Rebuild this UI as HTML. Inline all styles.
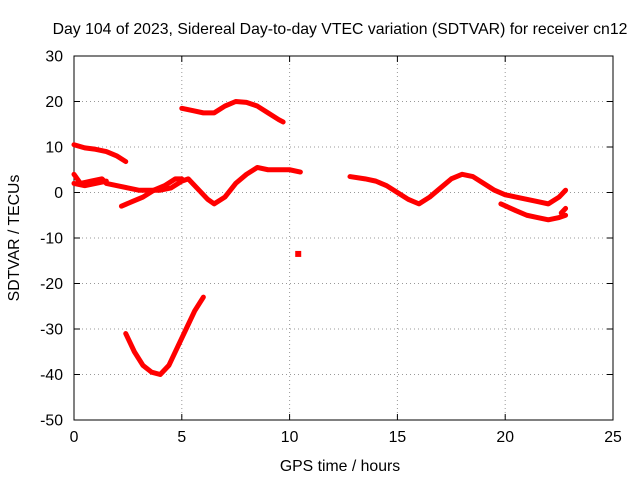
<!DOCTYPE html>
<html><head><meta charset="utf-8"><style>
body{margin:0;background:#fff}
svg text{font-family:"Liberation Sans",sans-serif;font-size:15.8px;fill:#000}
</style></head><body>
<svg id="chart" width="640" height="480">
<text x="340" y="34" text-anchor="middle">Day 104 of 2023, Sidereal Day-to-day VTEC variation (SDTVAR) for receiver cn12</text>
<g id="grid"></g><g id="axes"></g><g id="series"></g>
<text x="340" y="471" text-anchor="middle">GPS time / hours</text>
<text transform="translate(19,238) rotate(-90)" text-anchor="middle">SDTVAR / TECUs</text>
</svg>
<script>
const xTicks=[0,5,10,15,20,25];
const yTicks=[30,20,10,0,-10,-20,-30,-40,-50];
const s1=[[5.0,18.5],[5.5,18],[6.0,17.5],[6.5,17.5],[7.0,19],[7.5,20],[8.0,19.8],[8.5,19],[9.0,17.5],[9.5,16],[9.7,15.5]];
const s2=[[0,10.5],[0.5,9.8],[1,9.5],[1.5,9],[2,8],[2.4,6.8]];
const s3=[[2.4,-31],[2.8,-35],[3.2,-38],[3.6,-39.5],[4,-40],[4.4,-38],[4.8,-34],[5.2,-30],[5.6,-26],[6.0,-23]];
const s4=[[0,4],[0.3,2],[0.8,2.5],[1.3,3],[1.5,2],[2,1.5],[2.5,1],[3,0.5],[3.5,0.5],[4,0.5],[4.5,1],[5,2.5],[5.3,3],[5.7,1],[6.2,-1.5],[6.5,-2.5],[7,-1],[7.5,2],[8,4],[8.5,5.5],[9,5],[9.5,5],[10,5],[10.5,4.5]];
const s5=[[2.2,-3],[2.7,-2],[3.2,-1],[3.7,0.5],[4.2,1.5],[4.7,3],[5.0,3]];
const s6=[[0,2],[0.5,1.5],[1,2],[1.5,2.5]];
const s7=[[12.8,3.5],[13.5,3],[14,2.5],[14.5,1.5],[15,0],[15.5,-1.5],[16,-2.5],[16.5,-1],[17,1],[17.5,3],[18,4],[18.5,3.5],[19,2],[19.5,0.5],[20,-0.5],[20.5,-1],[21,-1.5],[21.5,-2],[22,-2.5],[22.5,-1],[22.8,0.5]];
const s8=[[19.8,-2.5],[20.5,-4],[21,-5],[21.5,-5.5],[22,-6],[22.5,-5.5],[22.8,-5]];
const s9=[[22.6,-4.5],[22.8,-3.5]];
const singlePoint=[[10.4,-13.5]];
const NS='http://www.w3.org/2000/svg';
const X0=74,X1=613,Y0=56,Y1=420;
const sx=v=>X0+(v-0)/(25-0)*(X1-X0);
const sy=v=>Y0+(30-v)/(30+50)*(Y1-Y0);
function mk(t,a,p){const e=document.createElementNS(NS,t);for(const k in a)e.setAttribute(k,a[k]);p.appendChild(e);return e;}
const grid=document.getElementById('grid'),axes=document.getElementById('axes'),ser=document.getElementById('series');
xTicks.forEach(v=>{
 if(v>0&&v<25){const g=mk('line',{x1:sx(v),x2:sx(v),y1:Y0,y2:Y1,stroke:'#999','stroke-dasharray':'1,3'},grid);
 
 }
 const t=mk('text',{x:sx(v),y:Y1+22,'text-anchor':'middle'},axes);t.textContent=v;
 
 
 mk('line',{x1:sx(v),x2:sx(v),y1:Y1,y2:Y1-6,stroke:'#000'},axes);
 mk('line',{x1:sx(v),x2:sx(v),y1:Y0,y2:Y0+6,stroke:'#000'},axes);
});
yTicks.forEach(v=>{
 if(v>-50&&v<30){const g=mk('line',{x1:X0,x2:X1,y1:sy(v),y2:sy(v),stroke:'#999','stroke-dasharray':'1,3'},grid);
 
 }
 const t=mk('text',{x:X0-11,y:sy(v)+5.5,'text-anchor':'end'},axes);t.textContent=v;
 
 
 mk('line',{x1:X0,x2:X0+6,y1:sy(v),y2:sy(v),stroke:'#000'},axes);
 mk('line',{x1:X1,x2:X1-6,y1:sy(v),y2:sy(v),stroke:'#000'},axes);
});
const fr=mk('rect',{x:X0,y:Y0,width:X1-X0,height:Y1-Y0,fill:'none',stroke:'#000'},axes);


[s1,s2,s3,s4,s5,s6,s7,s8,s9].forEach((s,i)=>{
 const p=mk('polyline',{points:s.map(d=>sx(d[0])+','+sy(d[1])).join(' '),fill:'none',stroke:'#f00','stroke-width':5,'stroke-linejoin':'round','stroke-linecap':'round'},ser);
 
 
});
singlePoint.forEach(d=>{
 const r=mk('rect',{x:sx(d[0])-3,y:sy(d[1])-3,width:6,height:6,fill:'#f00'},ser);
 
 
});
</script>
</body></html>
